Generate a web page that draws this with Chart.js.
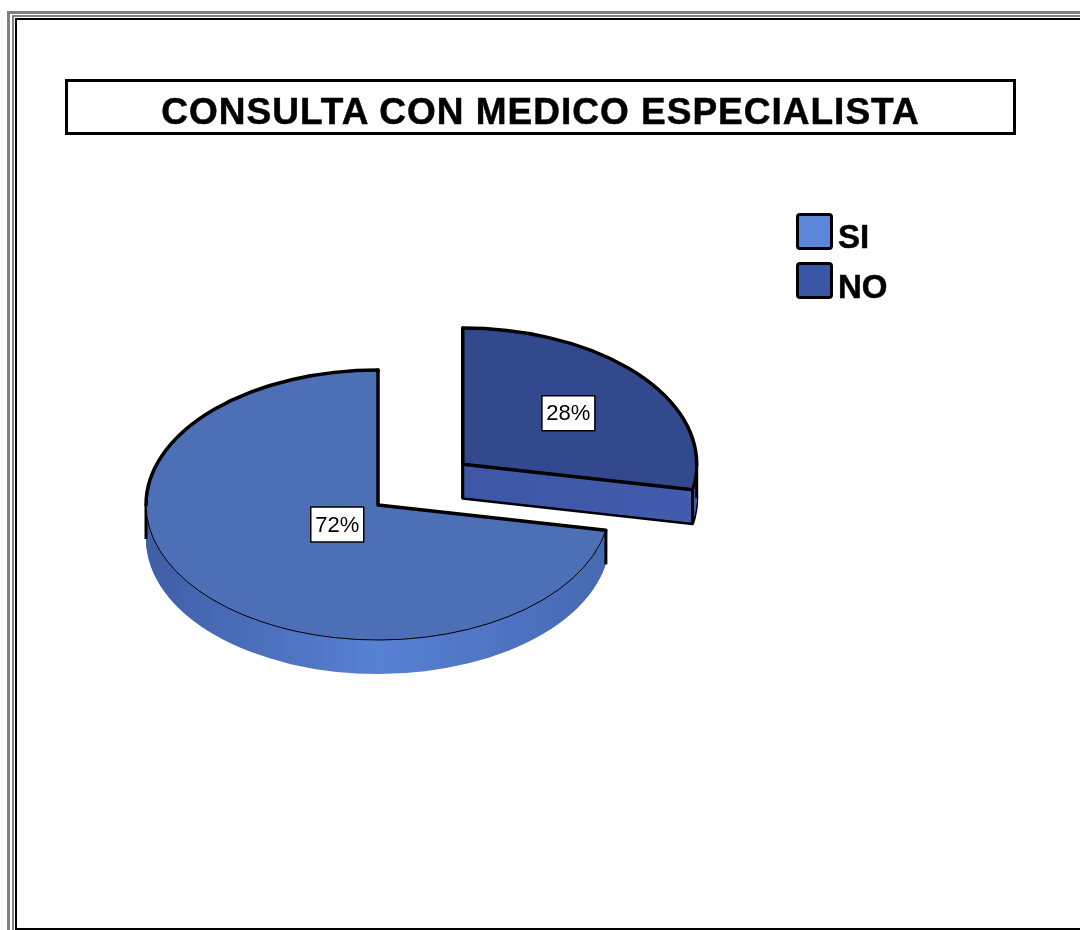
<!DOCTYPE html>
<html>
<head>
<meta charset="utf-8">
<script src="https://cdn.jsdelivr.net/npm/chart.js@4.4.1/dist/chart.umd.min.js"></script>
<style>
html,body{margin:0;padding:0;background:#fff;}
body{width:1080px;height:930px;position:relative;overflow:hidden;font-family:"Liberation Sans",Arial,sans-serif;}
.frame{position:absolute;box-sizing:border-box;}
#f1{left:7px;top:11px;width:1200px;height:1000px;border-left:3px solid #808080;border-top:3px solid #808080;}
#f2{left:12px;top:15px;width:1200px;height:1000px;border-left:2px solid #808080;border-top:2px solid #808080;}
#f3{left:15px;top:18px;width:1200px;height:912px;border-left:2px solid #000;border-top:2px solid #000;border-bottom:2px solid #000;}
canvas{position:absolute;left:0;top:0;}
#titleBox{position:absolute;left:65px;top:79px;width:951px;height:56px;box-sizing:border-box;border:3px solid #000;}
#title{position:absolute;left:65px;top:94px;width:951px;text-align:center;font:bold 37px/36px "Liberation Sans",Arial,sans-serif;letter-spacing:1px;color:#000;white-space:nowrap;-webkit-text-stroke:0.5px #000;}
.sw{position:absolute;left:796px;width:37px;height:37px;box-sizing:border-box;border:3.5px solid #000;border-radius:4px;}
.lt{position:absolute;left:838px;font:bold 33px/32px "Liberation Sans",Arial,sans-serif;color:#000;-webkit-text-stroke:0.5px #000;}
</style>
</head>
<body>
<div class="frame" id="f1"></div>
<div class="frame" id="f2"></div>
<div class="frame" id="f3"></div>
<canvas id="c" width="1080" height="930"></canvas>
<div id="titleBox"></div>
<div id="title">CONSULTA CON MEDICO ESPECIALISTA</div>
<div id="legend"></div>
<script>
// ---- data ----
const labels = ['SI', 'NO'];
const values = [72, 28];
const valueLabels = ['72%', '28%'];

// ---- styles ----
const topColors = ['#4D6FB5', '#33498D'];
const legendColors = ['#5B86DC', '#3B55A7'];
const explode = [0, 440];
const labelRadius = [0.228, 0.586];
const bottomLineW = [0, 3];
const frontLineW = [1, 3];
const vertLineW = [3, 3];
const TILT = 0.582;
const DEPTH = 34;

const total = values.reduce((a, b) => a + b, 0);
const rotationDeg = 360 * values[1] / total;

// legend (HTML)
const legendEl = document.getElementById('legend');
labels.forEach((lab, i) => {
  const sw = document.createElement('div');
  sw.className = 'sw';
  sw.style.top = (213 + i * 49) + 'px';
  sw.style.background = legendColors[i];
  legendEl.appendChild(sw);
  const t = document.createElement('div');
  t.className = 'lt';
  t.style.top = (221 + i * 49.5) + 'px';
  t.textContent = lab;
  legendEl.appendChild(t);
});

function geom(arc) {
  const p = arc.getProps(['x', 'y', 'startAngle', 'endAngle', 'outerRadius', 'circumference'], true);
  const off = (arc.options.offset || 0) / 4;
  const half = (p.startAngle + p.endAngle) / 2;
  const fix = 1 - Math.sin(Math.min(Math.PI, p.circumference || 0));
  const cxC = p.x + Math.cos(half) * off;
  const cyC = p.y + Math.sin(half) * off;
  return {
    cx: cxC,
    cy: p.y + (cyC - p.y) * TILT,
    r: p.outerRadius + off * fix,
    a0: p.startAngle,
    a1: p.endAngle,
    half: half
  };
}
function pt(g, a, k) {
  return [g.cx + g.r * Math.cos(a), g.cy + g.r * TILT * Math.sin(a) + (k || 0)];
}
function wedge(ctx, g, k) {
  ctx.beginPath();
  ctx.moveTo(g.cx, g.cy + k);
  ctx.ellipse(g.cx, g.cy + k, g.r, g.r * TILT, 0, g.a0, g.a1);
  ctx.closePath();
}
function anglesInside(g, target) {
  const res = [];
  for (let n = -3; n <= 3; n++) {
    const t = target + 2 * Math.PI * n;
    if (t > g.a0 && t < g.a1) res.push(t);
  }
  return res;
}
function sideFill(ctx, g, i) {
  const gr = ctx.createLinearGradient(g.cx - g.r, 0, g.cx + g.r, 0);
  if (i === 0) {
    gr.addColorStop(0, '#3F5FA6');
    gr.addColorStop(0.5, '#5781D3');
    gr.addColorStop(1, '#4668B2');
  } else {
    gr.addColorStop(0, '#3A51A1');
    gr.addColorStop(1, '#435BAC');
  }
  return gr;
}

const pie3d = {
  id: 'pie3d',
  beforeDatasetsDraw(chart) {
    const ctx = chart.ctx;
    const meta = chart.getDatasetMeta(0);
    const order = [1, 0];
    order.forEach(i => {
      const g = geom(meta.data[i]);
      const fill = sideFill(ctx, g, i);
      // bottom layer
      ctx.fillStyle = fill;
      wedge(ctx, g, DEPTH);
      ctx.fill();
      if (bottomLineW[i] > 0) {
        ctx.lineWidth = bottomLineW[i];
        ctx.strokeStyle = '#000';
        ctx.lineJoin = 'round';
        ctx.stroke();
      }
      for (let k = DEPTH - 1; k >= 1; k--) {
        wedge(ctx, g, k);
        ctx.fillStyle = fill;
        ctx.fill();
      }
      // vertical edges (front-visible only)
      ctx.lineWidth = vertLineW[i];
      ctx.strokeStyle = '#000';
      const verts = [];
      [g.a0, g.a1].forEach(a => { if (Math.sin(a) > -0.05) verts.push(pt(g, a, 0)); });
      if (anglesInside(g, Math.PI / 2).length === 0) verts.push([g.cx, g.cy]);
      anglesInside(g, 0).concat(anglesInside(g, Math.PI)).forEach(a => verts.push(pt(g, a, 0)));
      verts.forEach(v => {
        ctx.beginPath();
        ctx.moveTo(v[0], v[1]);
        ctx.lineTo(v[0], v[1] + DEPTH);
        ctx.stroke();
      });
    });
    // tilt for the top faces drawn by Chart.js
    const y0 = meta.data[0].y;
    ctx.save();
    ctx.translate(0, y0);
    ctx.scale(1, TILT);
    ctx.translate(0, -y0);
  },
  afterDatasetsDraw(chart) {
    const ctx = chart.ctx;
    ctx.restore();
    const meta = chart.getDatasetMeta(0);
    meta.data.forEach((arc, i) => {
      const g = geom(arc);
      ctx.strokeStyle = '#000';
      ctx.lineJoin = 'round';
      ctx.lineCap = 'round';
      const br = [g.a0];
      for (let n = -6; n <= 6; n++) {
        const t = n * Math.PI;
        if (t > g.a0 && t < g.a1) br.push(t);
      }
      br.push(g.a1);
      br.sort((a, b) => a - b);
      for (let s = 0; s < br.length - 1; s++) {
        const mid = (br[s] + br[s + 1]) / 2;
        ctx.lineWidth = Math.sin(mid) < 0 ? 3.5 : frontLineW[i];
        ctx.beginPath();
        ctx.ellipse(g.cx, g.cy, g.r, g.r * TILT, 0, br[s], br[s + 1]);
        ctx.stroke();
      }
      ctx.lineWidth = 3.5;
      const p0 = pt(g, g.a0, 0), p1 = pt(g, g.a1, 0);
      ctx.beginPath();
      ctx.moveTo(p0[0], p0[1]);
      ctx.lineTo(g.cx, g.cy);
      ctx.lineTo(p1[0], p1[1]);
      ctx.stroke();
    });
    // value labels
    ctx.font = '22px "Liberation Sans", Arial, sans-serif';
    ctx.textAlign = 'center';
    ctx.textBaseline = 'middle';
    meta.data.forEach((arc, i) => {
      const g = geom(arc);
      const d = g.r * labelRadius[i];
      const x = g.cx + Math.cos(g.half) * d;
      const y = g.cy + Math.sin(g.half) * d * TILT;
      const w = 53, h = 35;
      ctx.fillStyle = '#fff';
      ctx.fillRect(x - w / 2, y - h / 2, w, h);
      ctx.lineWidth = 1.5;
      ctx.strokeStyle = '#000';
      ctx.strokeRect(x - w / 2, y - h / 2, w, h);
      ctx.fillStyle = '#000';
      ctx.fillText(valueLabels[i], x, y + 1);
    });
  }
};

new Chart(document.getElementById('c'), {
  type: 'pie',
  data: {
    labels: labels,
    datasets: [{
      data: values,
      backgroundColor: topColors,
      borderWidth: 0,
      offset: explode,
      clip: false
    }]
  },
  options: {
    responsive: false,
    devicePixelRatio: 1,
    animation: false,
    events: [],
    rotation: rotationDeg,
    radius: 232,
    layout: { padding: { left: 0, right: 324, top: 80, bottom: 0 } },
    plugins: {
      legend: { display: false },
      tooltip: { enabled: false },
      title: { display: false }
    }
  },
  plugins: [pie3d]
});
</script>
</body>
</html>
